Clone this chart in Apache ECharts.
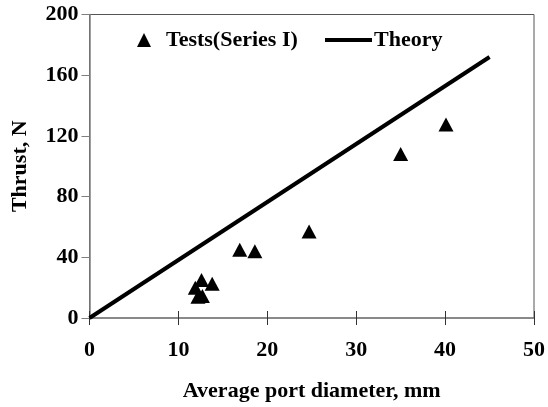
<!DOCTYPE html>
<html>
<head>
<meta charset="utf-8">
<script src="https://cdn.jsdelivr.net/npm/echarts@6/dist/echarts.min.js"></script>
<style>
  html, body { margin: 0; padding: 0; background: #fff; }
  #chart { width: 548px; height: 407px; }
</style>
</head>
<body>
<div id="chart"></div>
<script>
// Measured thrust vs. average port diameter (mm, N)
const testDiameters = [11.9, 12.2, 12.7, 12.6, 13.8, 16.9, 18.6, 24.7, 35.0, 40.1];
const testThrust    = [20.0, 14.0, 14.5, 25.0, 22.5, 45.0, 44.0, 57.0, 108.0, 127.5];

// Theoretical prediction (straight line)
const theoryDiameters = [0, 45];
const theoryThrust    = [0, 172];

const xTicks = [0, 10, 20, 30, 40, 50];
const yTicks = [0, 40, 80, 120, 160, 200];

const FONT = '"Liberation Serif", "Times New Roman", serif';
const AXIS_GRAY = '#7f7f7f';
const FS = 22;

const testPoints = testDiameters.map((d, i) => [d, testThrust[i]]);
const theoryPoints = theoryDiameters.map((d, i) => [d, theoryThrust[i]]);

const chart = echarts.init(document.getElementById('chart'), null, { renderer: 'canvas' });

const labelStyle = { color: '#000', fontFamily: FONT, fontWeight: 'bold', fontSize: FS };

chart.setOption({
  animation: false,
  backgroundColor: '#fff',
  grid: {
    left: 89.5, right: 13, top: 14.5, bottom: 84.5,
    show: true, borderColor: '#555', borderWidth: 1, backgroundColor: 'transparent'
  },
  legend: [
    {
      data: ['Tests(Series I)'],
      left: 132, top: 24,
      icon: 'triangle', itemWidth: 14, itemHeight: 14,
      textStyle: Object.assign({ padding: [0, 0, 0, 10] }, labelStyle)
    },
    {
      data: ['Theory'],
      left: 320, top: 24,
      icon: 'rect', itemWidth: 47, itemHeight: 4, itemGap: 0,
      textStyle: Object.assign({ padding: [0, 0, 0, -3] }, labelStyle)
    }
  ],
  xAxis: [
    {
      type: 'value', min: xTicks[0], max: xTicks[xTicks.length - 1], interval: xTicks[1] - xTicks[0],
      name: 'Average port diameter, mm', nameLocation: 'middle', nameGap: 62,
      nameTextStyle: labelStyle,
      axisLine: { show: true, lineStyle: { color: AXIS_GRAY, width: 1.5 } },
      axisTick: { show: true, inside: false, length: 7, lineStyle: { color: '#333', width: 1 } },
      axisLabel: Object.assign({ margin: 21 }, labelStyle),
      splitLine: { show: false }
    },
    {
      type: 'value', position: 'bottom', min: xTicks[0], max: xTicks[xTicks.length - 1], interval: xTicks[1] - xTicks[0],
      axisLine: { show: false },
      axisTick: { show: true, inside: true, length: 7, lineStyle: { color: '#333', width: 1 } },
      axisLabel: { show: false },
      splitLine: { show: false }
    }
  ],
  yAxis: {
    type: 'value', min: yTicks[0], max: yTicks[yTicks.length - 1], interval: yTicks[1] - yTicks[0],
    name: 'Thrust, N', nameLocation: 'middle', nameGap: 58, nameRotate: 90,
    nameTextStyle: labelStyle,
    axisLine: { show: true, lineStyle: { color: AXIS_GRAY, width: 1.5 } },
    axisTick: { show: true, inside: false, length: 8, lineStyle: { color: AXIS_GRAY, width: 1 } },
    axisLabel: Object.assign({ margin: 11 }, labelStyle),
    splitLine: { show: false }
  },
  series: [
    {
      name: 'Theory', type: 'line', data: theoryPoints,
      showSymbol: false, symbol: 'none',
      lineStyle: { color: '#000', width: 4 },
      itemStyle: { color: '#000' },
      z: 2
    },
    {
      name: 'Tests(Series I)', type: 'scatter', data: testPoints,
      symbol: 'triangle', symbolSize: [15, 14],
      itemStyle: { color: '#000', opacity: 1 },
      z: 3
    }
  ]
});
</script>
</body>
</html>
